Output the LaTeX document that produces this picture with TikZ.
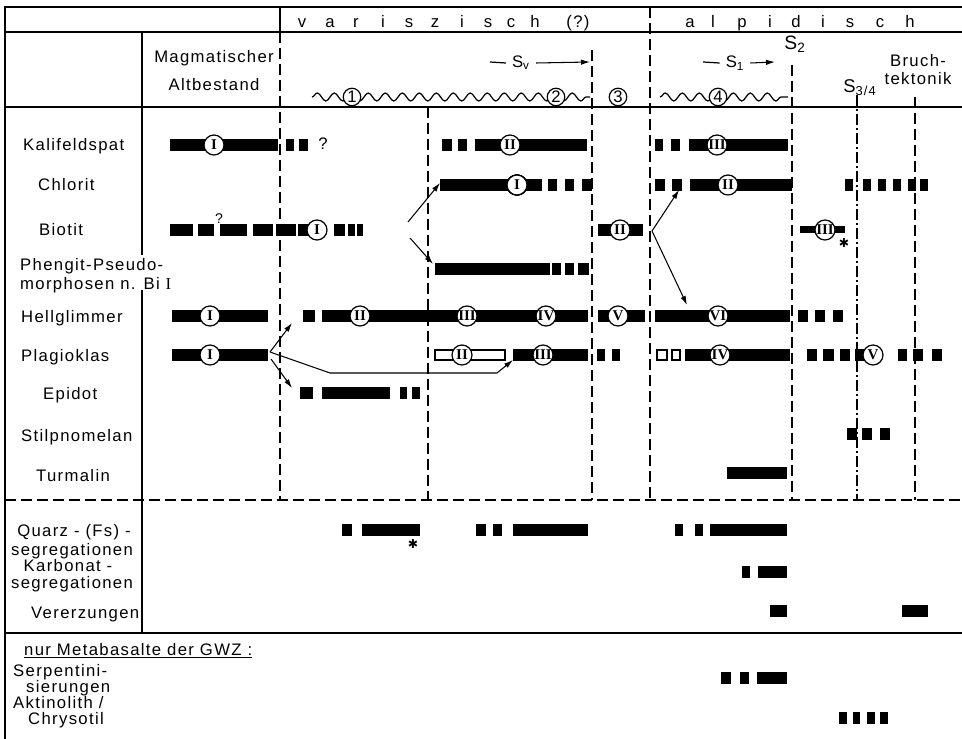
\documentclass[tikz,border=0pt]{standalone}
\usepackage{fontspec}
\setmainfont{Liberation Sans}[LetterSpace=8]
\newfontfamily\ziffer{Liberation Serif}
\newfontfamily\zeichen{DejaVu Sans}
\usetikzlibrary{arrows.meta,decorations.pathmorphing,positioning}

% Balken: x1, x2, y
\newcommand{\balken}[3]{\fill (#1,#3-6) rectangle (#2,#3+6);}
\newcommand{\hohl}[3]{\draw[line width=0.6pt,fill=white] (#1,#3-5) rectangle (#2,#3+5);}

\tikzset{
  rahmen/.style={line width=1pt},
  trenn/.style={line width=0.8pt,dash pattern=on 0.22cm off 0.1cm},
  strpkt/.style={line width=0.8pt,dash pattern=on 0.22cm off 0.06cm on 0.04cm off 0.06cm},
  roem/.style={circle,draw,line width=0.7pt,fill=white,inner sep=0pt,minimum size=0.4cm,
    font=\ziffer\bfseries\fontsize{8.5}{8.5}\selectfont},
  nummer/.style={circle,draw,line width=0.7pt,fill=white,inner sep=0pt,minimum size=0.35cm,
    font=\fontsize{9.5}{9.5}\selectfont},
  pfeil/.style={line width=0.6pt,-{Latex[length=1.8mm,width=1.1mm]}},
  welle/.style={line width=0.7pt,decorate,decoration={snake,segment length=0.34cm,amplitude=0.08cm}},
  zeile/.style={anchor=base west},
  mitte/.style={anchor=base,align=center},
}

\begin{document}
\begin{tikzpicture}[x=0.02cm,y=-0.02cm,font=\fontsize{9.5}{10.8}\selectfont]
  \useasboundingbox (0,0) rectangle (962,739);

  % Rahmen und Tabellenlinien
  \draw[rahmen] (5,739) -- (5,7) -- (962,7);
  \draw[rahmen] (5,32) -- (962,32);
  \draw[rahmen] (5,107) -- (962,107);
  \draw[rahmen] (5,633) -- (962,633);
  \draw[rahmen] (280,7) -- (280,32);
  \draw[rahmen] (142,32) -- (142,255);
  \draw[rahmen] (142,290) -- (142,633);
  \draw[trenn] (5,500) -- (962,500);
  \draw[trenn] (280,32) -- (280,500);
  \draw[trenn] (650,7) -- (650,500);
  \draw[trenn] (428,107) -- (428,500);
  \draw[trenn] (592,50) -- (592,500);
  \draw[trenn] (792,65) -- (792,500);
  \draw[strpkt] (857,95) -- (857,500);
  \draw[trenn] (915,97) -- (915,500);

  % Kopfzeile
  \foreach \x/\c in {302/v,330/a,356/r,383/i,409/s,435/z,462/i,488/s,511/c,535/h}
    \node[anchor=base] (var\x) at (\x,28) {\c};
  \node[anchor=base] (varfrage) at (578,28) {(?)};
  \foreach \x/\c in {690/a,713/l,742/p,770/i,796/d,823/i,850/s,880/c,910/h}
    \node[anchor=base] (alp\x) at (\x,28) {\c};

  \node[mitte] (magma) at (214,63) {Magmatischer};
  \node[mitte] (altbest) at (214,91) {Altbestand};

  \node (sv) at (521,63) {S\textsubscript{v}};
  \draw[line width=0.7pt] (490,62) -- (sv.west);
  \draw[pfeil] (sv.east) -- (590,62);
  \node (seins) at (735,63) {S\textsubscript{1}};
  \draw[line width=0.7pt] (703,62) -- (seins.west);
  \draw[pfeil] (seins.east) -- (775,62);
  \node (szwei) at (795,44) {\fontsize{11}{11}\selectfont S\textsubscript{2}};
  \node (sdrei) at (860,88) {\fontsize{10.5}{11}\selectfont S\textsubscript{3/4}};
  \node[mitte] (bruch) at (918,67) {Bruch-};
  \node[mitte] (tekt) at (918,85) {tektonik};

  \draw[welle] (312,97) -- (590,97);
  \draw[welle] (660,97) -- (788,97);
  \node[nummer] (n1) at (352,97) {1};
  \node[nummer] (n2) at (556,97) {2};
  \node[nummer] (n3) at (618,97) {3};
  \node[nummer] (n4) at (718,97) {4};

  % Zeilenbeschriftung
  \node[zeile] (kali) at (17,151) {Kalifeldspat};
  \node[zeile] (chlor) at (32,191) {Chlorit};
  \node[zeile] (bio) at (33,236) {Biotit};
  \node[zeile] (phen) at (14,271) {Phengit-Pseudo-};
  \node[zeile] (morph) at (14,290) {morphosen n. Bi {\ziffer I}};
  \node[zeile] (hell) at (15,323) {Hellglimmer};
  \node[zeile] (plag) at (15,361) {Plagioklas};
  \node[zeile] (epi) at (37,399) {Epidot};
  \node[zeile] (stilp) at (15,441) {Stilpnomelan};
  \node[zeile] (turm) at (30,481) {Turmalin};
  \node[mitte] (quarz) at (74,536) {Quarz - (Fs) -};
  \node[mitte] (qseg) at (72,555) {segregationen};
  \node[mitte] (karb) at (68,571) {Karbonat -};
  \node[mitte] (kseg) at (72,588) {segregationen};
  \node[zeile] (verz) at (25,618) {Vererzungen};
  \node[zeile] (nurmeta) at (18,655) {\underline{nur Metabasalte der GWZ :}};
  \node[zeile] (serp) at (7,676) {Serpentini-};
  \node[zeile] (sier) at (20,692) {sierungen};
  \node[zeile] (akt) at (7,708) {Aktinolith /};
  \node[zeile] (chrys) at (22,724) {Chrysotil};

  % Kalifeldspat
  \balken{170}{278}{145}
  \balken{286}{294}{145} \balken{299}{308}{145}
  \node (kfrage) at (323,144) {?};
  \balken{442}{452}{145} \balken{458}{467}{145} \balken{475}{587}{145}
  \balken{655}{663}{145} \balken{671}{680}{145} \balken{689}{788}{145}
  \node[roem] (kfI) at (214,145) {I};
  \node[roem] (kfII) at (510,145) {II};
  \node[roem] (kfIII) at (717,145) {III};

  % Chlorit
  \balken{440}{542}{185}
  \balken{548}{557}{185} \balken{565}{574}{185} \balken{582}{592}{185}
  \balken{655}{665}{185} \balken{672}{682}{185} \balken{690}{792}{185}
  \foreach \x in {845,863,878,893,908,920} \balken{\x}{\x+8}{185}
  \node[roem] (chI) at (517,185) {I};
  \node[roem] (chII) at (728,185) {II};

  % Biotit
  \balken{170}{193}{230} \balken{198}{214}{230} \balken{220}{247}{230}
  \balken{253}{273}{230} \balken{276}{296}{230} \balken{298}{310}{230}
  \balken{334}{345}{230} \balken{348}{355}{230} \balken{357}{363}{230}
  \node[font=\fontsize{8}{8}\selectfont] (bfrage) at (219,219) {?};
  \node[roem] (biI) at (317,230) {I};
  \balken{598}{643}{230}
  \node[roem] (biII) at (620,230) {II};
  \fill (800,226.5) rectangle (845,233.5);
  \node[roem] (biIII) at (825,230) {III};
  \node (stern1) at (844,243) {\zeichen\fontsize{7}{7}\selectfont ✱};

  % Phengit
  \balken{435}{550}{269}
  \balken{552}{561}{269} \balken{565}{574}{269} \balken{578}{589}{269}

  % Hellglimmer
  \balken{172}{268}{316}
  \balken{303}{315}{316} \balken{322}{588}{316}
  \balken{598}{645}{316} \balken{655}{790}{316}
  \balken{798}{808}{316} \balken{815}{825}{316} \balken{833}{843}{316}
  \node[roem] (heI) at (210,316) {I};
  \node[roem] (heII) at (360,316) {II};
  \node[roem] (heIII) at (467,316) {III};
  \node[roem] (heIV) at (546,316) {IV};
  \node[roem] (heV) at (618,316) {V};
  \node[roem] (heVI) at (718,316) {VI};

  % Plagioklas
  \balken{172}{268}{355}
  \hohl{435}{505}{355}
  \balken{513}{588}{355}
  \balken{597}{605}{355} \balken{612}{620}{355}
  \hohl{657}{667}{355} \hohl{672}{680}{355}
  \balken{685}{790}{355}
  \balken{807}{817}{355} \balken{823}{834}{355} \balken{840}{850}{355} \balken{855}{866}{355}
  \balken{898}{907}{355} \balken{913}{923}{355} \balken{932}{942}{355}
  \node[roem] (plI) at (210,355) {I};
  \node[roem] (plII) at (462,355) {II};
  \node[roem] (plIII) at (543,355) {III};
  \node[roem] (plIV) at (720,355) {IV};
  \node[roem] (plV) at (873,355) {V};

  % Epidot, Stilpnomelan, Turmalin
  \balken{300}{313}{393} \balken{322}{390}{393} \balken{400}{407}{393} \balken{412}{420}{393}
  \balken{847}{857}{434} \balken{862}{872}{434} \balken{880}{890}{434}
  \balken{727}{787}{473}

  % Segregationen, Vererzungen
  \balken{342}{352}{530} \balken{362}{420}{530}
  \node (stern2) at (413,544) {\zeichen\fontsize{7}{7}\selectfont ✱};
  \balken{476}{486}{530} \balken{493}{502}{530} \balken{513}{588}{530}
  \balken{675}{683}{530} \balken{695}{703}{530} \balken{710}{787}{530}
  \balken{742}{750}{572} \balken{758}{787}{572}
  \balken{770}{787}{611} \balken{902}{928}{611}

  % Metabasalte
  \balken{721}{731}{678} \balken{740}{749}{678} \balken{757}{787}{678}
  \balken{839}{847}{718} \balken{853}{860}{718} \balken{867}{875}{718} \balken{880}{888}{718}

  % Umwandlungspfeile
  \coordinate (bioaus1) at (408,222);
  \coordinate (bioaus2) at (410,238);
  \coordinate (chlein) at (440,183);
  \coordinate (pheein) at (433,264);
  \draw[pfeil] (bioaus1) -- (chlein);
  \draw[pfeil] (bioaus2) -- (pheein);
  \coordinate (bio2aus) at (652,231);
  \coordinate (chl2ein) at (679,190);
  \coordinate (hel6ein) at (687,305);
  \draw[pfeil] (bio2aus) -- (chl2ein);
  \draw[pfeil] (bio2aus) -- (hel6ein);
  \coordinate (plaus1) at (270,352);
  \coordinate (plaus2) at (271,359);
  \coordinate (helein) at (292,323);
  \coordinate (epiein) at (292,388);
  \coordinate (plIIIein) at (513,360);
  \draw[pfeil] (plaus1) -- (helein);
  \draw[pfeil] (plaus2) -- (epiein);
  \draw[pfeil] (plaus1) -- (330,373) -- (497,373) -- (plIIIein);
\end{tikzpicture}
\end{document}
